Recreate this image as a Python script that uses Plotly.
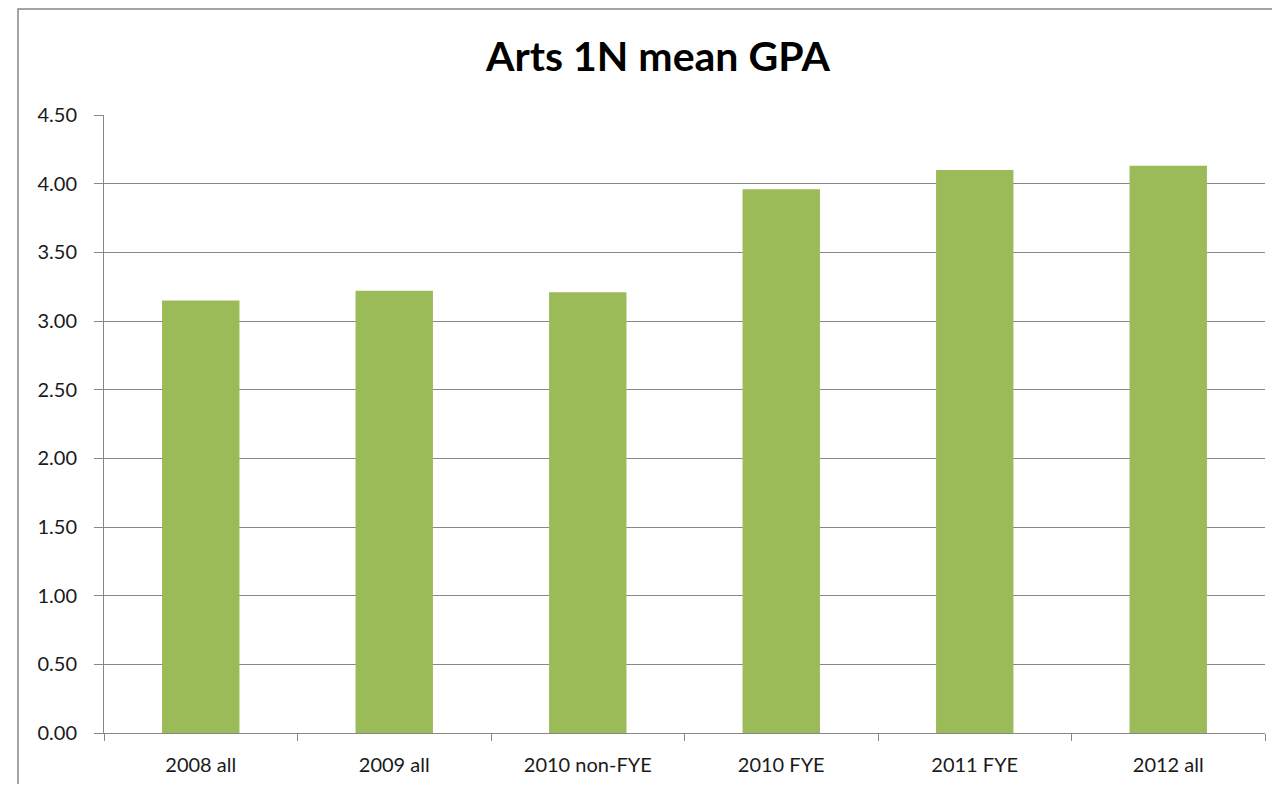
import plotly.graph_objects as go

categorias = ['2008 all', '2009 all', '2010 non-FYE', '2010 FYE', '2011 FYE', '2012 all']
gpa_medio = [3.15, 3.22, 3.21, 3.96, 4.10, 4.13]
ticks_y = [0.0, 0.5, 1.0, 1.5, 2.0, 2.5, 3.0, 3.5, 4.0, 4.5]

VERDE = '#9BBB59'
GRIS = '#878787'
FUENTE = 'Lato, "Open Sans", sans-serif'

# la pagina tiene 8px de margen en el body: figura de 1264x776 para que no haya scroll
ANCHO, ALTO = 1264, 776

fig = go.Figure()
fig.add_trace(go.Bar(
    x=categorias,
    y=gpa_medio,
    marker=dict(color=VERDE, line=dict(width=0)),
    hovertemplate='%{x}: %{y:.2f}<extra></extra>',
))

fig.update_xaxes(
    showline=True, linecolor=GRIS, linewidth=1,
    ticks='outside', ticklen=7, tickcolor=GRIS, tickson='boundaries',
    ticklabelstandoff=14,
    tickfont=dict(size=20, color='#1a1a1a', family=FUENTE),
    showgrid=False,
)
fig.update_yaxes(
    range=[0, 4.5], tickvals=ticks_y, tickformat='.2f',
    showline=True, linecolor=GRIS, linewidth=1,
    ticks='outside', ticklen=9, tickcolor=GRIS,
    ticklabelstandoff=13,
    showgrid=True, gridcolor=GRIS, gridwidth=1,
    zeroline=False,
    tickfont=dict(size=20, color='#1a1a1a', family=FUENTE),
)

# marco del grafico (estilo Excel)
l, r, t, b = 96, 7, 107, 51
ancho_plot = ANCHO - l - r
alto_plot = ALTO - t - b
fig.add_shape(type='rect', xref='paper', yref='paper',
              x0=(10 - l) / ancho_plot, x1=1.2,
              y0=-0.3, y1=(ALTO - b - 1) / alto_plot,
              line=dict(color=GRIS, width=1.5), fillcolor='rgba(0,0,0,0)', layer='below')

fig.update_layout(
    title=dict(text='<b>Arts 1N mean GPA</b>', x=650 / ANCHO, xanchor='center',
               y=1 - 49 / ALTO, yanchor='middle',
               font=dict(size=41, family=FUENTE, color='#000000')),
    width=ANCHO, height=ALTO,
    margin=dict(l=l, r=r, t=t, b=b),
    bargap=0.6,
    plot_bgcolor='white', paper_bgcolor='white',
    showlegend=False,
)

fig.write_html('out.html')
